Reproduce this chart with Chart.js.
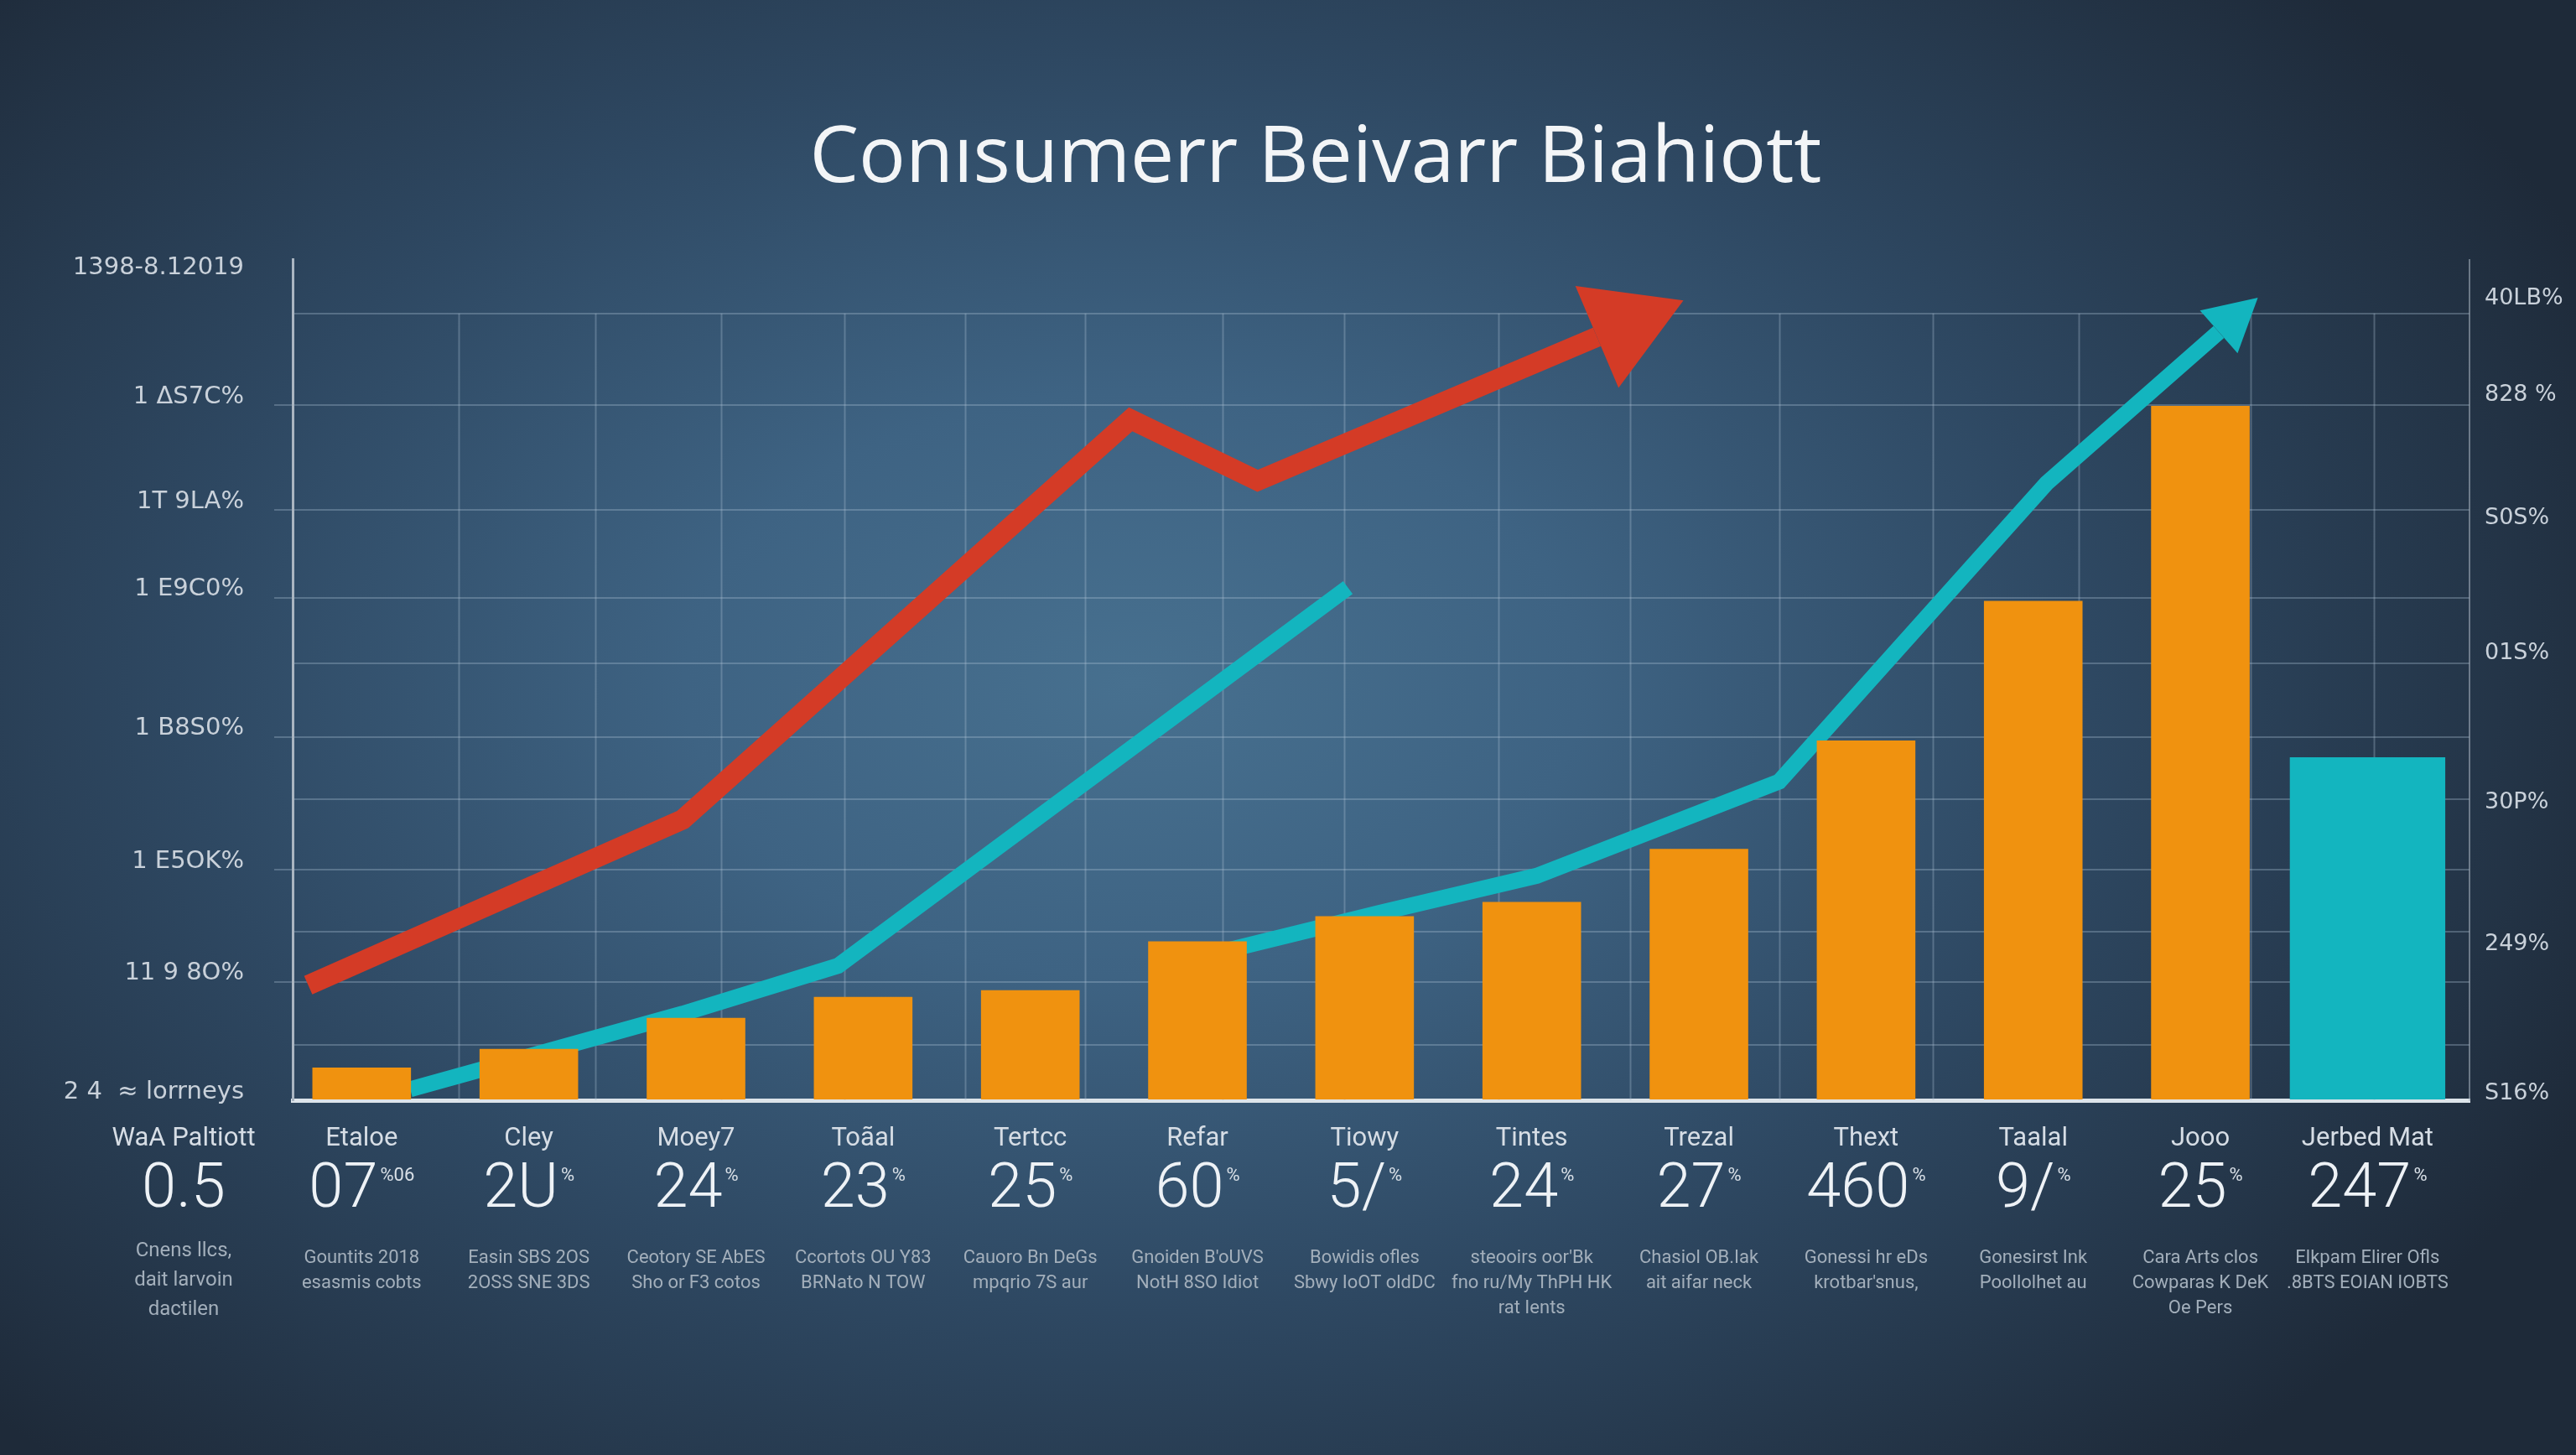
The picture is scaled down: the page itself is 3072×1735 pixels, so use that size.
<!DOCTYPE html>
<html><head><meta charset="utf-8">
<script src="https://cdn.jsdelivr.net/npm/chart.js@4.4.1/dist/chart.umd.min.js"></script>
<style>
html,body{margin:0;padding:0;width:3072px;height:1735px;overflow:hidden;}
body{background:radial-gradient(ellipse 62% 72% at 44% 47%, #47708f 0%, #3e6383 28%, #2e4862 60%, #1e2a39 100%);}
#wrap{position:absolute;left:0;top:0;width:3072px;height:1735px;}
</style></head><body>
<div id="wrap"><canvas id="c" width="3072" height="1735"></canvas></div>
<script>
// ---------- data ----------
const TITLE = 'Conısumerr Beivarr Biahiott';
const categories = ['Etaloe','Cley','Moey7','Toãal','Tertcc','Refar','Tiowy','Tintes','Trezal','Thext','Taalal','Jooo','Jerbed Mat'];
const orangeValues = [3.9, 6.1, 9.8, 12.3, 13.1, 18.9, 21.9, 23.6, 29.9, 42.8, 59.4, 82.6, null];
const tealBarValues = [null, null, null, null, null, null, null, null, null, null, null, null, 40.8];

// line series: x = category position, y = value
const redLineX = [-0.32, 1.92, 4.60, 5.36, 7.39];
const redLineY = [13.7, 33.4, 81.0, 73.7, 90.8];
const tealLine1X = [0.29, 1.92, 2.85, 5.90];
const tealLine1Y = [1.3, 10.3, 16.0, 61.0];
const tealLine2X = [4.72, 6.09, 7.03, 8.48, 10.08, 11.11];
const tealLine2Y = [15.6, 22.3, 26.7, 37.9, 73.4, 91.4];

// axes
const leftTickVals = [0, 6.6, 14.1, 20.1, 27.4, 35.8, 43.2, 52.0, 59.8, 70.2, 82.7, 93.6, 98];
const leftTickLabels = ['2 4  ≈ lorrneys', '', '11 9 8O%', '', '1 E5OK%', '', '1 B8S0%', '', '1 E9C0%', '1T 9LA%', '1 ΔS7C%', '', '1398-8.12019'];
const rightTickVals = [0.8, 18.6, 35.4, 53.2, 69.2, 83.9, 95.4];
const rightTickLabels = ['S16%', '249%', '30P%', '01S%', 'S0S%', '828 %', '40LB%'];
const vGridAt = [0.58, 1.40, 2.15, 2.89, 3.61, 4.33, 5.15, 5.88, 6.80, 7.59, 8.48, 9.40, 10.27, 11.30, 12.04];

// bottom table (first column is the row header)
const colNames = ['WaA Paltiott', ...categories];
const colNums = ['0.5', '07', '2U', '24', '23', '25', '60', '5/', '24', '27', '460', '9/', '25', '247'];
const colSups = ['', '%06', '%', '%', '%', '%', '%', '%', '%', '%', '%', '%', '%', '%'];
const colDescs = [
  ['Cnens llcs,', 'dait larvoin', 'dactilen'],
  ['Gountits 2018', 'esasmis cobts'],
  ['Easin SBS 2OS', '2OSS SNE 3DS'],
  ['Ceotory SE AbES', 'Sho or F3 cotos'],
  ['Ccortots OU Y83', 'BRNato N TOW'],
  ['Cauoro Bn DeGs', 'mpqrio 7S aur'],
  ['Gnoiden B\'oUVS', 'NotH 8SO Idiot'],
  ['Bowidis ofles', 'Sbwy IoOT oldDC'],
  ['steooirs oor\'Bk', 'fno ru/My ThPH HK', 'rat Ients'],
  ['Chasiol OB.Iak', 'ait aifar neck'],
  ['Gonessi hr eDs', 'krotbar\'snus,'],
  ['Gonesirst Ink', 'Poollolhet au'],
  ['Cara Arts clos', 'Cowparas K DeK', 'Oe Pers'],
  ['Elkpam Elirer Ofls', '.8BTS EOIAN IOBTS']
];

// ---------- styles ----------
const ORANGE = '#f0920f';
const TEAL = '#13b5bf';
const RED = '#d43b26';
const GRID = 'rgba(175,195,215,0.32)';
const LABEL = '#c9d1da';

const toXY = (xs, ys) => xs.map((x, i) => ({x: x, y: ys[i]}));
const barXY = vals => vals.map((v, i) => (v === null ? null : {x: i, y: v})).filter(p => p);

const vgridPlugin = {
  id: 'vgrid',
  beforeDatasetsDraw(chart) {
    const {ctx, chartArea, scales: {x, y}} = chart;
    const gridTop = y.getPixelForValue(Math.max(...leftTickVals.slice(0, -1)));
    ctx.save();
    ctx.strokeStyle = GRID;
    ctx.lineWidth = 2;
    vGridAt.forEach(v => {
      const px = Math.round(x.getPixelForValue(v)) + 0.5;
      ctx.beginPath();
      ctx.moveTo(px, gridTop);
      ctx.lineTo(px, chartArea.bottom);
      ctx.stroke();
    });
    ctx.restore();
  }
};

const arrowPlugin = {
  id: 'arrows',
  afterDatasetsDraw(chart) {
    const ctx = chart.ctx;
    chart.data.datasets.forEach((ds, di) => {
      if (!ds.arrow) return;
      const pts = chart.getDatasetMeta(di).data;
      const a = pts[pts.length - 2], b = pts[pts.length - 1];
      const dx = b.x - a.x, dy = b.y - a.y, L = Math.hypot(dx, dy);
      const ux = dx / L, uy = dy / L, nx = -uy, ny = ux;
      const {len, half} = ds.arrow;
      ctx.save();
      ctx.fillStyle = ds.borderColor;
      ctx.beginPath();
      ctx.moveTo(b.x + ux * len, b.y + uy * len);
      ctx.lineTo(b.x + nx * half, b.y + ny * half);
      ctx.lineTo(b.x - nx * half, b.y - ny * half);
      ctx.closePath();
      ctx.fill();
      ctx.restore();
    });
  }
};

const tablePlugin = {
  id: 'table',
  afterDraw(chart) {
    const {ctx, chartArea, scales: {x}} = chart;
    const base = chartArea.bottom;
    ctx.save();
    ctx.textAlign = 'center';
    ctx.textBaseline = 'middle';
    colNames.forEach((name, i) => {
      const px = i === 0 ? chartArea.left - 130 : x.getPixelForValue(i - 1);
      ctx.fillStyle = '#d6dde5';
      ctx.font = '400 31px Roboto';
      ctx.fillText(name, px, base + 46);
      // big number + superscript
      ctx.font = '300 74px Roboto';
      const wMain = ctx.measureText(colNums[i]).width;
      ctx.font = '400 22px Roboto';
      const wSup = colSups[i] ? ctx.measureText(colSups[i]).width + 3 : 0;
      const start = px - (wMain + wSup) / 2;
      ctx.textAlign = 'left';
      ctx.fillStyle = '#eef2f6';
      ctx.font = '300 74px Roboto';
      ctx.fillText(colNums[i], start, base + 108);
      if (colSups[i]) {
        ctx.font = '400 22px Roboto';
        ctx.fillStyle = '#d9e0e7';
        ctx.fillText(colSups[i], start + wMain + 3, base + 90);
      }
      ctx.textAlign = 'center';
      ctx.fillStyle = '#a3afbb';
      ctx.font = (i === 0 ? '400 24px' : '400 22px') + ' Roboto';
      colDescs[i].forEach((line, k) => {
        ctx.fillText(line, px, base + (i === 0 ? 180 : 188) + k * (i === 0 ? 35 : 30));
      });
    });
    ctx.restore();
  }
};

new Chart(document.getElementById('c'), {
  type: 'bar',
  data: {
    datasets: [
      {type: 'bar', data: barXY(orangeValues), backgroundColor: ORANGE, barPercentage: 0.59, categoryPercentage: 1, grouped: false, order: 1},
      {type: 'bar', data: barXY(tealBarValues), backgroundColor: TEAL, barPercentage: 0.93, categoryPercentage: 1, grouped: false, order: 1},
      {type: 'line', data: toXY(redLineX, redLineY), borderColor: RED, borderWidth: 24, pointRadius: 0, tension: 0, borderJoinStyle: 'miter', borderCapStyle: 'butt', order: 2, arrow: {len: 112, half: 66}},
      {type: 'line', data: toXY(tealLine1X, tealLine1Y), borderColor: TEAL, borderWidth: 19, pointRadius: 0, tension: 0, borderJoinStyle: 'miter', borderCapStyle: 'butt', order: 3},
      {type: 'line', data: toXY(tealLine2X, tealLine2Y), borderColor: TEAL, borderWidth: 19, pointRadius: 0, tension: 0, borderJoinStyle: 'miter', borderCapStyle: 'butt', order: 3, arrow: {len: 62, half: 34}}
    ]
  },
  options: {
    responsive: false,
    animation: false,
    events: [],
    layout: {padding: {left: 66, right: 0, top: 0, bottom: 0}},
    plugins: {
      legend: {display: false},
      tooltip: {enabled: false},
      title: {display: true, text: TITLE, color: '#f3f5f7', font: {family: 'Open Sans', size: 93, weight: '400'}, padding: {top: 135, bottom: 63}}
    },
    scales: {
      x: {
        type: 'linear', min: -0.413, max: 12.61,
        afterBuildTicks: s => { s.ticks = []; },
        afterFit: s => { s.height = 1735 - 1312; },
        ticks: {display: false},
        grid: {display: false},
        border: {color: '#dde4ea', width: 5}
      },
      y: {
        type: 'linear', position: 'left', min: 0, max: 100,
        afterBuildTicks: s => { s.ticks = leftTickVals.map(v => ({value: v})); },
        afterFit: s => { s.width = 349 - 66; },
        ticks: {autoSkip: false, callback: (v, i) => leftTickLabels[i], color: LABEL, font: {family: 'DejaVu Sans', size: 29}, padding: 36, labelOffset: -10},
        grid: {
          lineWidth: 2, tickLength: 22,
          color: ctx => (ctx.tick && (ctx.tick.value === 0 || ctx.index === leftTickVals.length - 1)) ? 'rgba(0,0,0,0)' : GRID,
          tickColor: ctx => (ctx.tick && leftTickLabels[ctx.index] !== '' && ctx.tick.value !== 0 && ctx.index !== leftTickVals.length - 1) ? GRID : 'rgba(0,0,0,0)'
        },
        border: {color: '#aab5c1', width: 3}
      },
      y2: {
        type: 'linear', position: 'right', min: 0, max: 100,
        afterBuildTicks: s => { s.ticks = rightTickVals.map(v => ({value: v})); },
        afterFit: s => { s.width = 3072 - 2945; },
        ticks: {autoSkip: false, callback: (v, i) => rightTickLabels[i], color: LABEL, font: {family: 'DejaVu Sans', size: 27}, padding: 12},
        grid: {drawOnChartArea: false, tickLength: 6, tickColor: 'rgba(0,0,0,0)'},
        border: {color: 'rgba(170,181,193,0.55)', width: 2}
      }
    }
  },
  plugins: [vgridPlugin, arrowPlugin, tablePlugin]
});
</script>
</body></html>
